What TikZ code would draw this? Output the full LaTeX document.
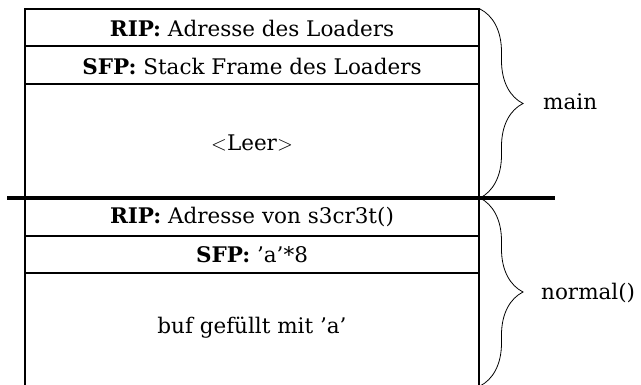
\documentclass[tikz,border=0pt]{standalone}
\usepackage{fontspec}
\setmainfont{DejaVu Serif}
\usetikzlibrary{decorations.pathreplacing}
\begin{document}
\begin{tikzpicture}[x=1pt,y=-1pt,
  celltext/.style={font=\fontsize{21.5}{25}\selectfont, inner sep=0pt, anchor=center},
  sidetext/.style={font=\fontsize{21.5}{25}\selectfont, inner sep=0pt, anchor=west},
  frame/.style={line width=1.6pt},
  divider/.style={line width=3.5pt},
  brc/.style={decorate, decoration={brace, amplitude=43pt, aspect=0.5}, line width=0.8pt}]
\useasboundingbox (0,0) rectangle (641,385);
% frame
\coordinate (tl) at (25,9);
\coordinate (tr) at (479,9);
\coordinate (bl) at (25,390);
\coordinate (br) at (479,390);
\draw[frame] (bl) -- (tl) -- (tr) -- (br);
\coordinate (l1) at (25,46);  \coordinate (r1) at (479,46);
\coordinate (l2) at (25,84);  \coordinate (r2) at (479,84);
\coordinate (l3) at (25,236); \coordinate (r3) at (479,236);
\coordinate (l4) at (25,273); \coordinate (r4) at (479,273);
\draw[frame] (l1) -- (r1);
\draw[frame] (l2) -- (r2);
\draw[frame] (l3) -- (r3);
\draw[frame] (l4) -- (r4);
\coordinate (dl) at (7,198); \coordinate (dr) at (555,198);
\draw[divider] (dl) -- (dr);
% texts
\node[celltext] (t1) at (252,28) {\textbf{RIP:} Adresse des Loaders};
\node[celltext] (t2) at (252,66) {\textbf{SFP:} Stack Frame des Loaders};
\node[celltext] (t3) at (252,143) {$<$Leer$>$};
\node[celltext] (t4) at (252,217) {\textbf{RIP:} Adresse von s3cr3t()};
\node[celltext] (t5) at (252,255) {\textbf{SFP:} ’a’*8};
\node[celltext] (t6) at (252,328) {buf gefüllt mit ’a’};
% braces
\coordinate (b1s) at (480,9); \coordinate (b1e) at (480,198);
\coordinate (b2s) at (480,198); \coordinate (b2e) at (480,386);
\draw[brc] (b1s) -- (b1e);
\draw[brc] (b2s) -- (b2e);
\node[sidetext] (main) at (543,102) {main};
\node[sidetext] (normal) at (541,293) {normal()};
\end{tikzpicture}
\end{document}
